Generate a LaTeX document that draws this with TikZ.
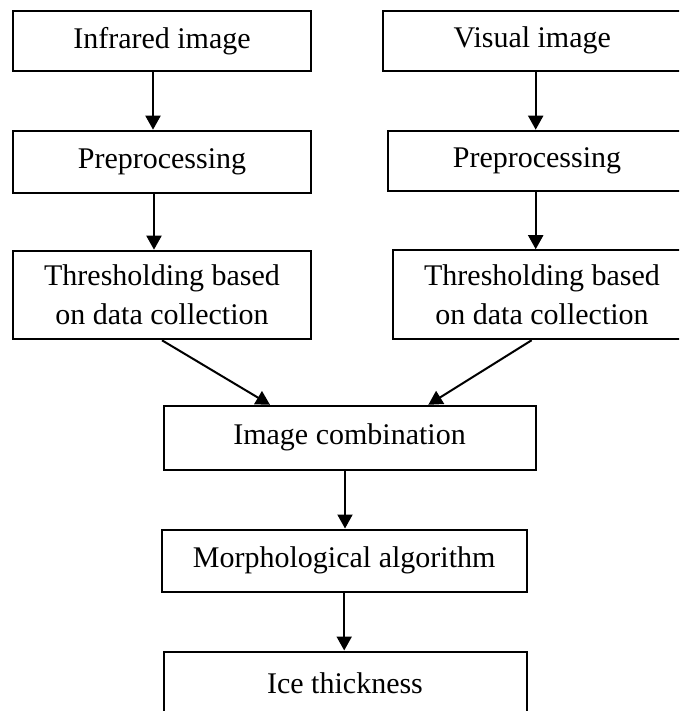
\documentclass[tikz,border=0pt]{standalone}
\usepackage{fontspec}
\setmainfont{Liberation Serif}
\usetikzlibrary{arrows.meta}

\tikzset{step box/.style={draw, line width=1pt, inner sep=0pt, align=center,
        font=\fontsize{15}{19.3}\selectfont},
    source box/.style={step box, minimum width=149pt, minimum height=30pt},
    flow arrow/.style={line width=1pt, -{Triangle[length=7pt, width=7.5pt]}},
}

\begin{document}
\begin{tikzpicture}[x=0.5pt, y=-0.5pt]

	\useasboundingbox (0, 0) rectangle (679, 711);
	\clip (0, 0) rectangle (679, 711);

	% left column
	\node[source box] (ir) at (162, 40.7) {Infrared image};
	\node[source box, minimum height=31pt] (prel) at (162, 161.7) {Preprocessing};
	\node[source box, minimum height=44.3pt] (thl) at (162, 295) {Thresholding based\\on data collection};
	% right column
	\node[source box] (vis) at (532.3, 40.7) {Visual image};
	\node[source box] (prer) at (537, 160.7) {Preprocessing};
	\node[source box, minimum height=44.5pt] (thr) at (542, 294.7) {Thresholding based\\on data collection};
	% merged part
	\node[step box, minimum width=186pt, minimum height=32pt] (comb) at (349.5, 437.8) {Image combination};
	\node[step box, minimum width=182.5pt, minimum height=31pt] (morph) at (344.2, 560.5) {Morphological algorithm};
	\node[step box, minimum width=181.5pt, minimum height=31.5pt] (ice) at (345, 683) {Ice thickness};

	% arrows
		% left
		\draw[flow arrow] ([xshift=-4.5pt]ir.south) -- ([xshift=-4.5pt]ir.south |- prel.north);
		\draw[flow arrow] ([xshift=-4pt]prel.south) -- ([xshift=-4pt]prel.south |- thl.north);
		% right
		\draw[flow arrow] ([xshift=1.7pt]vis.south) -- ([xshift=1.7pt]vis.south |- prer.north);
		\draw[flow arrow] ([xshift=-0.65pt]prer.south) -- ([xshift=-0.65pt]prer.south |- thr.north);
		% into combination
		\draw[flow arrow] (thl.south) -- ([xshift=-39.75pt]comb.north);
		\draw[flow arrow] ([xshift=-5.15pt]thr.south) -- ([xshift=39.4pt]comb.north);
		% down
		\draw[flow arrow] ([xshift=-2.25pt]comb.south) -- ([xshift=-2.25pt]comb.south |- morph.north);
		\draw[flow arrow] (morph.south) -- (morph.south |- ice.north);
\end{tikzpicture}
\end{document}
